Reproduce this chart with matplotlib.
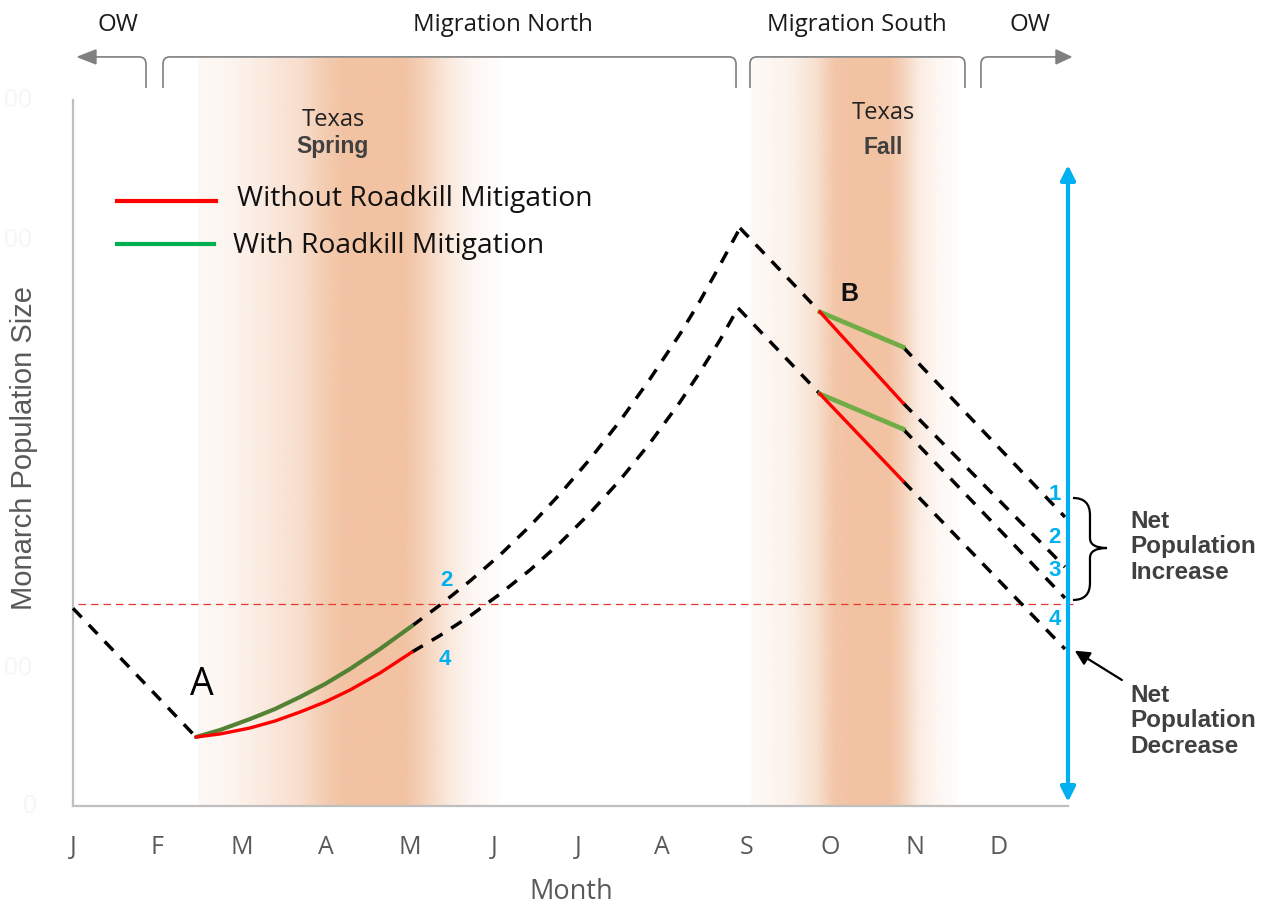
import numpy as np
import matplotlib
matplotlib.use("Agg")
import matplotlib.pyplot as plt
from matplotlib.path import Path
from matplotlib.patches import PathPatch, Polygon

# ---------------- data (x in months, 0 = January; y = population size, arbitrary units) -------------
months = ['J', 'F', 'M', 'A', 'M', 'J', 'J', 'A', 'S', 'O', 'N', 'D']

# overwintering decline: January to point A
winter_x = [0.0, 1.461]
winter_y = [28.0, 9.77]

# Texas spring (solid segments)
spring_x = [1.461, 1.746, 2.103, 2.400, 2.697, 2.994, 3.291, 3.647, 4.027]
spring_with = [9.77, 10.76, 12.32, 13.74, 15.44, 17.28, 19.41, 22.24, 25.50]
spring_without = [9.77, 10.20, 11.05, 12.04, 13.31, 14.73, 16.43, 18.84, 21.81]

# breeding season growth after Texas spring (dashed)
summer_x_with = [4.027, 4.360, 4.716, 5.072, 5.429, 5.785, 6.142, 6.498, 6.854, 7.211, 7.448, 7.686, 7.923]
summer_with = [25.50, 28.47, 31.87, 35.55, 39.66, 44.19, 49.15, 54.53, 60.48, 66.86, 71.53, 76.63, 81.87]
summer_x_without = [4.027, 4.360, 4.716, 5.072, 5.429, 5.785, 6.142, 6.498, 6.854, 7.211, 7.448, 7.686, 7.900]
summer_without = [21.81, 24.15, 26.91, 30.03, 33.43, 37.25, 41.50, 46.18, 51.42, 57.22, 61.47, 66.01, 70.54]

# migration south before Texas (dashed)
pre_fall_x_with = [7.923, 8.874]
pre_fall_with = [81.87, 69.97]
pre_fall_x_without = [7.900, 8.874]
pre_fall_without = [70.54, 58.36]

# Texas fall segments (solid) and later decline to overwintering (dashed), scenarios 1-4
fall_x = [8.874, 9.860, 11.784]
scen1 = [69.97, 65.01, 40.93]   # mitigation spring + fall
scen2 = [69.97, 57.08, 33.85]   # mitigation spring only
scen3 = [58.36, 53.40, 29.46]   # mitigation fall only
scen4 = [58.36, 46.03, 22.24]   # no mitigation
scenario_labels = ['1', '2', '3', '4']

start_level = 28.6  # reference level (starting population)

# ---------------- figure ----------------
fig = plt.figure(figsize=(12.64, 9.09), dpi=100)
ax = fig.add_axes([0, 0, 1, 1])
ax.set_autoscale_on(False)
XL = (-73 / 84.18, (1264 - 73) / 84.18)
YL = ((806 - 909) / 7.06, 806 / 7.06)
ax.set_xlim(*XL)
ax.set_ylim(*YL)

FONT = ['Open Sans', 'DejaVu Sans']
ARIAL = ['Liberation Sans', 'DejaVu Sans']
GREY = '#595959'
DARK = '#404040'
BLUE = '#00b0f0'
PEACH = np.array([242, 195, 163]) / 255.0

# ---------------- shaded Texas bands ----------------
def band(x0, x1, fx, fa, top):
    xs = np.linspace(0, 1, 600)
    a = np.interp(xs, fx, fa)
    rgba = np.zeros((1, 600, 4))
    rgba[..., :3] = PEACH
    rgba[..., 3] = a
    ax.imshow(rgba, extent=[x0, x1, 0, top], aspect='auto', interpolation='bilinear', zorder=0)

band(1.485, 5.072,
     [0, 0.106, 0.205, 0.338, 0.42, 0.487, 0.685, 0.75, 0.834, 0.917, 1.0],
     [0.1, 0.17, 0.32, 0.55, 0.85, 1.0, 1.0, 0.75, 0.35, 0.12, 0.04], 105.9)
band(8.042, 10.50,
     [0, 0.193, 0.314, 0.411, 0.483, 0.676, 0.749, 0.82, 0.918, 1.0],
     [0.08, 0.22, 0.5, 0.95, 1.0, 1.0, 0.7, 0.3, 0.12, 0.05], 105.9)

# ---------------- axes spines and ticks ----------------
for s in ['top', 'right']:
    ax.spines[s].set_visible(False)
ax.spines['left'].set_position(('data', 0))
ax.spines['bottom'].set_position(('data', 0))
ax.spines['left'].set_bounds(0, 100)
ax.spines['bottom'].set_bounds(0, 11.82)
for s in ['left', 'bottom']:
    ax.spines[s].set_color('#bfbfbf')
    ax.spines[s].set_linewidth(1.6)
ax.set_yticks([])
ax.set_xticks(np.arange(12))
ax.set_xticklabels(months, fontsize=18, color=GREY, family=FONT)
ax.tick_params(axis='x', length=0, pad=21)

ax.text(5.916, -12.2, 'Month', fontsize=19.5, color=GREY, family=FONT, ha='center', va='center')
ax.text(-0.582, 50.7, 'Monarch Population Size', fontsize=21, color=GREY, family=ARIAL,
        rotation=90, ha='center', va='center')
for (fx_, fy_, s_) in [(-0.653, 100, '00'), (-0.653, 80.17, '00'), (-0.653, 19.55, '00'), (-0.511, 0, '0')]:
    ax.text(fx_, fy_, s_, fontsize=18, color='#f6f6f6', family=ARIAL, ha='center', va='center')

# ---------------- reference level ----------------
ax.plot([0.06, 11.9], [start_level, start_level], color='#e8372c', lw=0.9, ls=(0, (6, 4)), zorder=2)

# ---------------- dashed trajectories ----------------
dash = dict(color='black', lw=2.5, ls=(0, (3.6, 3.0)), zorder=3)
ax.plot(winter_x, winter_y, **dash)
ax.plot(summer_x_with, summer_with, **dash)
ax.plot(summer_x_without, summer_without, **dash)
ax.plot(pre_fall_x_with, pre_fall_with, **dash)
ax.plot(pre_fall_x_without, pre_fall_without, **dash)
for sc in [scen1, scen2, scen3, scen4]:
    ax.plot(fall_x[1:], sc[1:], **dash)

# ---------------- solid Texas segments ----------------
ax.plot(spring_x, spring_with, color='#548235', lw=3.0, zorder=4, solid_capstyle='round')
ax.plot(spring_x, spring_without, color='#ff0000', lw=2.4, zorder=4, solid_capstyle='round')
ax.plot(fall_x[:2], scen1[:2], color='#70ad47', lw=3.4, zorder=4)
ax.plot(fall_x[:2], scen3[:2], color='#70ad47', lw=3.4, zorder=4)
ax.plot(fall_x[:2], scen2[:2], color='#ff0000', lw=2.4, zorder=4)
ax.plot(fall_x[:2], scen4[:2], color='#ff0000', lw=2.4, zorder=4)

# ---------------- legend ----------------
ax.plot([0.523, 1.699], [85.69, 85.69], color='#ff0000', lw=3.0, zorder=4)
ax.plot([0.523, 1.675], [79.60, 79.60], color='#00b050', lw=3.0, zorder=4)
ax.text(1.948, 85.98, 'Without Roadkill Mitigation', fontsize=20.3, family=FONT, color='#111111',
        ha='left', va='center', zorder=6)
ax.text(1.901, 79.32, 'With Roadkill Mitigation', fontsize=20.3, family=FONT, color='#111111',
        ha='left', va='center', zorder=6)

# ---------------- band labels ----------------
ax.text(3.089, 97.17, 'Texas', fontsize=17, family=FONT, color='#222222', ha='center', va='center')
ax.text(3.089, 93.48, 'Spring', fontsize=16.5, family=ARIAL, weight='bold', color=DARK, ha='center', va='center')
ax.text(9.622, 98.16, 'Texas', fontsize=17, family=FONT, color='#222222', ha='center', va='center')
ax.text(9.622, 93.34, 'Fall', fontsize=16.5, family=ARIAL, weight='bold', color=DARK, ha='center', va='center')

ax.text(1.532, 17.14, 'A', fontsize=27, family=FONT, color='black', ha='center', va='center', zorder=6)
ax.text(9.218, 72.52, 'B', fontsize=18, family=ARIAL, weight='bold', color='#111111', ha='center', va='center', zorder=6)

# scenario numbers
num = dict(fontsize=16, family=ARIAL, weight='bold', color=BLUE, ha='center', va='center', zorder=6)
ax.text(4.431, 32.01, scenario_labels[1], **num)
ax.text(4.419, 20.68, scenario_labels[3], **num)
for (yy, lab) in zip([44.19, 38.10, 33.29, 26.35], scenario_labels):
    ax.text(11.66, yy, lab, **num)

# ---------------- blue double arrow ----------------
ax.annotate('', xy=(11.82, 90.79), xytext=(11.82, 0.57),
            arrowprops=dict(arrowstyle='<|-|>', color=BLUE, lw=3.0, mutation_scale=22,
                            shrinkA=0, shrinkB=0), zorder=5)

# ---------------- brace and decrease arrow ----------------
bx0, bx1, bx2 = 11.879, 12.081, 12.283
brace = Path([(bx0, 43.63), (bx1, 43.63), (bx1, 41.22), (bx1, 37.96), (bx1, 36.54), (bx2, 36.54),
              (bx1, 36.54), (bx1, 35.13), (bx1, 31.59), (bx1, 29.18), (bx0, 29.18)],
             [Path.MOVETO, Path.CURVE3, Path.CURVE3, Path.LINETO, Path.CURVE3, Path.CURVE3,
              Path.CURVE3, Path.CURVE3, Path.LINETO, Path.CURVE3, Path.CURVE3])
ax.add_patch(PathPatch(brace, fill=False, color='black', lw=1.6, zorder=5, clip_on=False))
ax.annotate('', xy=(11.90, 22.0), xytext=(12.46, 17.85),
            arrowprops=dict(arrowstyle='-|>', color='black', lw=1.6, mutation_scale=22,
                            shrinkA=0, shrinkB=0), zorder=5)

ax.text(12.556, 36.69, 'Net\nPopulation\nIncrease', fontsize=17.5, family=ARIAL, weight='bold',
        color=DARK, ha='left', va='center', linespacing=1.12)
ax.text(12.556, 12.04, 'Net\nPopulation\nDecrease', fontsize=17.5, family=ARIAL, weight='bold',
        color=DARK, ha='left', va='center', linespacing=1.12)

# ---------------- season brackets at top ----------------
BG = '#7f7f7f'
yb, yt = 101.7, 106.1
rx, ry = 0.08, 1.0

def bracket(xl, xr):
    p = Path([(xl, yb), (xl, yt - ry), (xl, yt), (xl + rx, yt), (xr - rx, yt), (xr, yt), (xr, yt - ry), (xr, yb)],
             [Path.MOVETO, Path.LINETO, Path.CURVE3, Path.CURVE3, Path.LINETO, Path.CURVE3, Path.CURVE3, Path.LINETO])
    ax.add_patch(PathPatch(p, fill=False, color=BG, lw=1.2, clip_on=False))

def ow_arrow(xv, xbase, xtip):
    sgn = 1 if xtip > xv else -1
    p = Path([(xv, yb), (xv, yt - ry), (xv, yt), (xv + sgn * rx, yt), (xbase, yt)],
             [Path.MOVETO, Path.LINETO, Path.CURVE3, Path.CURVE3, Path.LINETO])
    ax.add_patch(PathPatch(p, fill=False, color=BG, lw=1.2, clip_on=False))
    ax.add_patch(Polygon([(xtip, yt), (xbase, yt + 0.99), (xbase, yt - 0.99)], closed=True,
                         color='#808080', clip_on=False))

ow_arrow(0.867, 0.273, 0.06)
bracket(1.069, 7.876)
bracket(8.042, 10.596)
ow_arrow(10.786, 11.677, 11.855)

top = dict(fontsize=17.3, family=FONT, color='#1a1a1a', ha='center', va='center')
ax.text(0.535, 110.6, 'OW', **top)
ax.text(5.108, 110.6, 'Migration North', **top)
ax.text(9.313, 110.6, 'Migration South', **top)
ax.text(11.368, 110.6, 'OW', **top)

ax.set_xlim(*XL)
ax.set_ylim(*YL)
fig.savefig('out.png', dpi=100)
